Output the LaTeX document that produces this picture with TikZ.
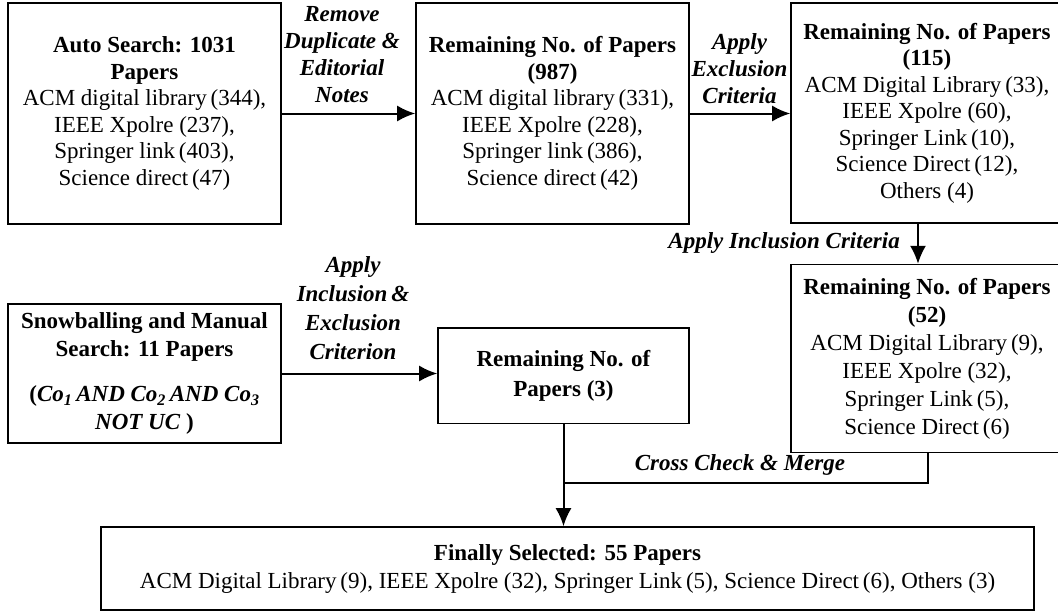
\documentclass[tikz,border=0pt]{standalone}
\usepackage{fontspec}
\setmainfont{Liberation Serif}
\usetikzlibrary{arrows.meta}
\begin{document}
\begin{tikzpicture}[x=1pt,y=-1pt,
  box/.style={draw,line width=1.6pt,align=center,inner sep=0pt,font=\fontsize{23}{26.5}\selectfont},
  lab/.style={align=center,inner sep=0pt,font=\fontsize{23}{27}\selectfont\bfseries\itshape},
  arr/.style={line width=2pt,-{Latex[length=18pt,width=16pt]}},
  ln/.style={line width=2pt}]
\useasboundingbox (0,0) rectangle (1058,613);
\clip (0,0) rectangle (1058,613);
\node[box,minimum width=273pt,minimum height=221pt] (b1) at (144.5,113.5)
  {\textbf{Auto Search: 1031}\\\textbf{Papers}\\ACM digital library\,(344),\\IEEE Xpolre (237),\\Springer link\,(403),\\Science direct\,(47)};
\node[box,minimum width=273pt,minimum height=221pt] (b2) at (552.5,113.5)
  {\textbf{Remaining No. of Papers}\\\textbf{(987)}\\ACM digital library\,(331),\\IEEE Xpolre (228),\\Springer link\,(386),\\Science direct\,(42)};
\node[box,minimum width=272pt,minimum height=220pt] (b3) at (927,113)
  {\textbf{Remaining No. of Papers}\\\textbf{(115)}\\ACM Digital Library\,(33),\\IEEE Xpolre (60),\\Springer Link\,(10),\\Science Direct\,(12),\\Others (4)};
\node[box,minimum width=272pt,minimum height=188pt,font=\fontsize{23}{28}\selectfont] (b4) at (927,358.6)
  {\textbf{Remaining No. of Papers}\\\textbf{(52)}\\ACM Digital Library\,(9),\\IEEE Xpolre (32),\\Springer Link\,(5),\\Science Direct\,(6)};
\node[box,minimum width=273pt,minimum height=139pt,font=\fontsize{23}{28}\selectfont] (b5) at (144.5,373.5)
  {\textbf{Snowballing and Manual}\\\textbf{Search: 11 Papers}\\[17pt]
   \textbf{(\textit{Co\textsubscript{1}\,AND Co\textsubscript{2}\,AND Co\textsubscript{3}}}\\
   \textbf{\textit{NOT UC} )}};
\node[box,minimum width=251pt,minimum height=95.6pt,font=\fontsize{23}{30}\selectfont\bfseries] (b6) at (563.5,375.8)
  {Remaining No. of\\Papers (3)};
\node[box,minimum width=933pt,minimum height=83pt,font=\fontsize{23}{28}\selectfont] (b7) at (567.5,568.5)
  {\textbf{Finally Selected: 55 Papers}\\ACM Digital Library\,(9), IEEE Xpolre (32), Springer Link\,(5), Science Direct\,(6), Others (3)};
\node[lab] (l1) at (342,55) {Remove\\Duplicate \&\\Editorial\\Notes};
\node[lab] (l2) at (739.5,69) {Apply\\Exclusion\\Criteria};
\node[lab,anchor=east] (l3) at (900,243) {Apply Inclusion Criteria};
\node[lab,font=\fontsize{23}{29}\selectfont\bfseries\itshape] (l4) at (353,308.5) {Apply\\Inclusion\,\&\\Exclusion\\Criterion};
\node[lab] (l5) at (740,465) {Cross Check \& Merge};
\draw[arr] (b1.east) -- (b2.west);
\draw[arr] (b2.east) -- (b2.east -| b3.west);
\draw[arr] ([xshift=-9pt]b3.south) -- ([xshift=-9pt]b4.north);
\draw[arr] (b5.east) -- (b5.east -| b6.west);
\coordinate (my) at (0,483.3);
\coordinate (m) at (b6.south |- my);
\draw[ln] ([xshift=1pt]b4.south) |- (m);
\draw[arr] (b6.south) -- (b6.south |- b7.north);
\end{tikzpicture}
\end{document}
